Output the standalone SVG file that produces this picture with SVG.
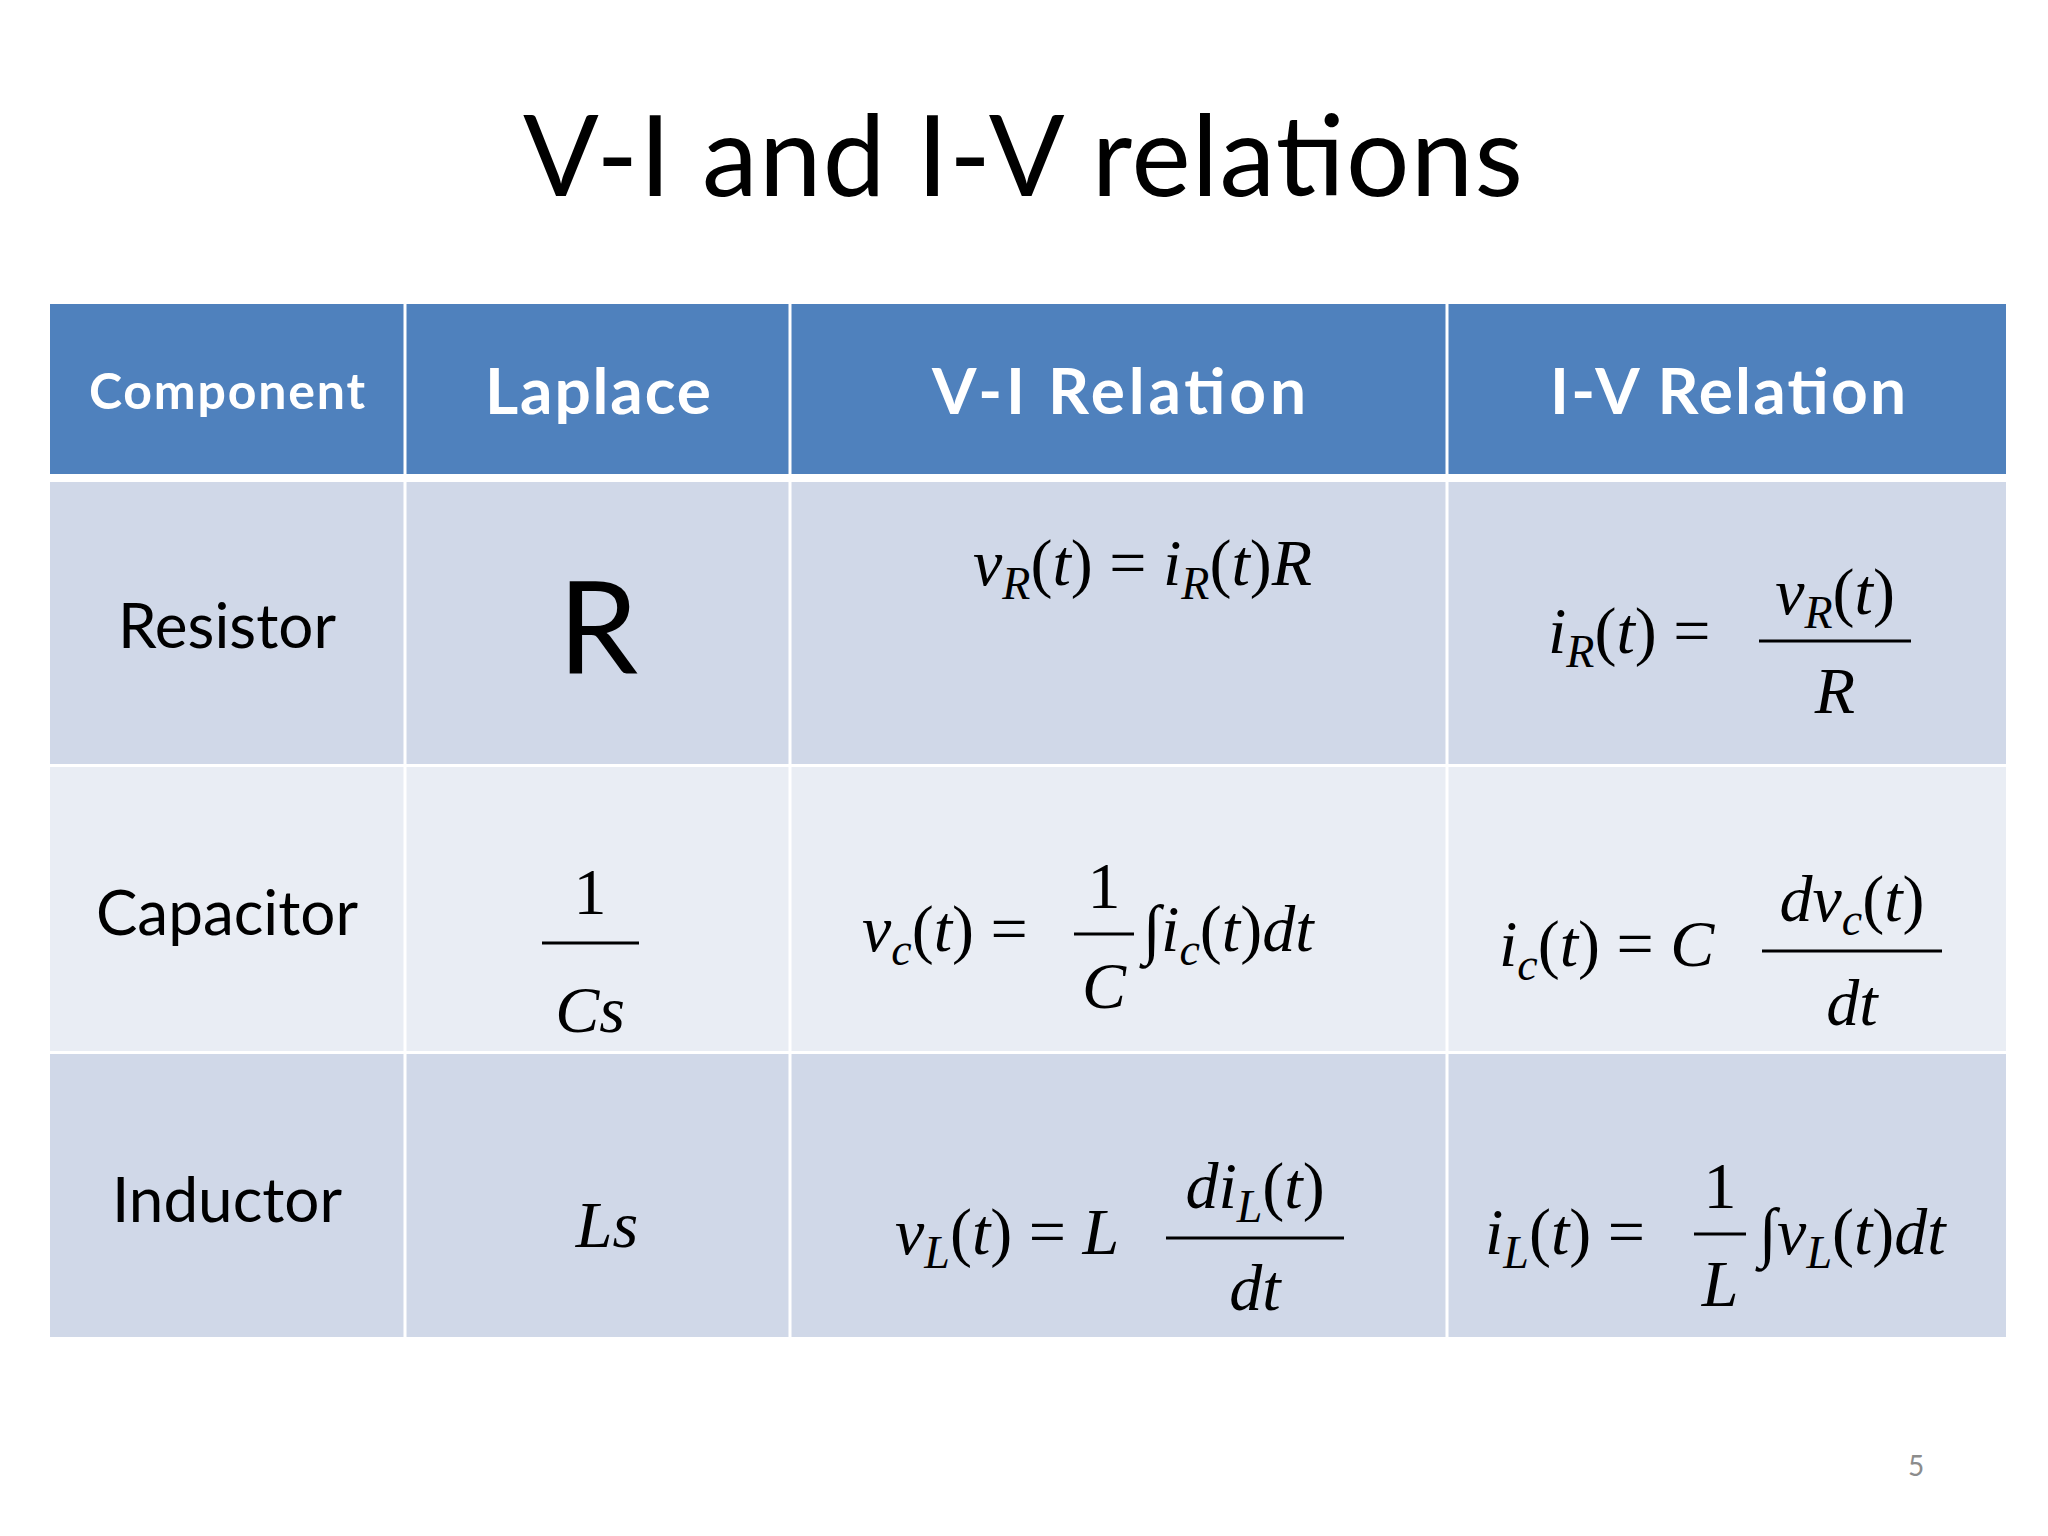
<svg xmlns="http://www.w3.org/2000/svg" width="2048" height="1536" viewBox="0 0 2048 1536">
<style>
.hd{fill:#4F81BD}.r1{fill:#D0D8E8}.r2{fill:#E9EDF4}
.ht{font-family:Lato,"Open Sans",sans-serif;font-weight:bold;fill:#fff;text-anchor:middle}
.ct{font-family:Lato,"Open Sans",sans-serif;fill:#000;font-size:62px;text-anchor:middle}
.m{font-family:"Liberation Serif",serif;font-style:italic;fill:#000;font-size:66px}
.u{font-style:normal}
.s{font-size:46px}
.fl{stroke:#000;stroke-width:3}
</style>
<rect width="2048" height="1536" fill="#fff"/>
<text x="1023" y="196" font-family="Lato,'Open Sans',sans-serif" font-size="112" text-anchor="middle" textLength="1000">V-I and I-V relations</text>
<g id="table">
<rect class="hd" x="50" y="304" width="1956" height="170"/>
<rect class="r1" x="50" y="482" width="1956" height="282"/>
<rect class="r2" x="50" y="767" width="1956" height="284"/>
<rect class="r1" x="50" y="1054" width="1956" height="283"/>
<g stroke="#fff" stroke-width="3"><line x1="405" y1="304" x2="405" y2="1337"/><line x1="790" y1="304" x2="790" y2="1337"/><line x1="1447" y1="304" x2="1447" y2="1337"/></g>
</g>
<g id="header">
<text class="ht" x="227" y="409" font-size="50" textLength="276">Component</text>
<text class="ht" x="598" y="414" font-size="64" textLength="226">Laplace</text>
<text class="ht" x="1119" y="414" font-size="64" textLength="374">V-I  Relation</text>
<text class="ht" x="1728" y="414" font-size="64" textLength="356">I-V Relation</text>
</g>
<g id="labels">
<text class="ct" x="227" y="648">Resistor</text>
<text class="ct" x="227" y="935">Capacitor</text>
<text class="ct" x="227" y="1222">Inductor</text>
<text x="598" y="673" font-family="Lato,'Open Sans',sans-serif" font-size="128" text-anchor="middle">R</text>
</g>
<g id="laplace">
<text class="m u" x="590" y="914" text-anchor="middle">1</text>
<line class="fl" x1="542" y1="943" x2="639" y2="943"/>
<text class="m" x="590" y="1032" text-anchor="middle">Cs</text>
<text class="m" x="607" y="1247" text-anchor="middle" font-size="118">Ls</text>
</g>
<g id="vi">
<text class="m" x="973" y="585">v<tspan class="s" dy="14">R</tspan><tspan class="u" dy="-14">(</tspan>t<tspan class="u">) = </tspan>i<tspan class="s" dy="14">R</tspan><tspan class="u" dy="-14">(</tspan>t<tspan class="u">)</tspan>R</text>
<text class="m" x="862" y="951">v<tspan class="s" dy="14">c</tspan><tspan class="u" dy="-14">(</tspan>t<tspan class="u">) =</tspan></text>
<text class="m u" x="1104" y="908" text-anchor="middle">1</text>
<line class="fl" x1="1074" y1="934" x2="1134" y2="934"/>
<text class="m" x="1104" y="1008" text-anchor="middle">C</text>
<text class="m" x="1143" y="951"><tspan class="u">∫</tspan>i<tspan class="s" dy="14">c</tspan><tspan class="u" dy="-14">(</tspan>t<tspan class="u">)</tspan>dt</text>
<text class="m" x="895" y="1254">v<tspan class="s" dy="14">L</tspan><tspan class="u" dy="-14">(</tspan>t<tspan class="u">) = </tspan>L</text>
<text class="m" x="1255" y="1208" text-anchor="middle">di<tspan class="s" dy="14">L</tspan><tspan class="u" dy="-14">(</tspan>t<tspan class="u">)</tspan></text>
<line class="fl" x1="1166" y1="1238" x2="1344" y2="1238"/>
<text class="m" x="1255" y="1310" text-anchor="middle">dt</text>
</g>
<g id="iv">
<text class="m" x="1548" y="653">i<tspan class="s" dy="14">R</tspan><tspan class="u" dy="-14">(</tspan>t<tspan class="u">) =</tspan></text>
<text class="m" x="1835" y="614" text-anchor="middle">v<tspan class="s" dy="14">R</tspan><tspan class="u" dy="-14">(</tspan>t<tspan class="u">)</tspan></text>
<line class="fl" x1="1759" y1="641" x2="1911" y2="641"/>
<text class="m" x="1835" y="713" text-anchor="middle">R</text>
<text class="m" x="1499" y="966">i<tspan class="s" dy="14">c</tspan><tspan class="u" dy="-14">(</tspan>t<tspan class="u">) = </tspan>C</text>
<text class="m" x="1852" y="921" text-anchor="middle">dv<tspan class="s" dy="14">c</tspan><tspan class="u" dy="-14">(</tspan>t<tspan class="u">)</tspan></text>
<line class="fl" x1="1762" y1="951" x2="1942" y2="951"/>
<text class="m" x="1852" y="1025" text-anchor="middle">dt</text>
<text class="m" x="1485" y="1254">i<tspan class="s" dy="14">L</tspan><tspan class="u" dy="-14">(</tspan>t<tspan class="u">) =</tspan></text>
<text class="m u" x="1720" y="1208" text-anchor="middle">1</text>
<line class="fl" x1="1694" y1="1234" x2="1746" y2="1234"/>
<text class="m" x="1720" y="1306" text-anchor="middle">L</text>
<text class="m" x="1759" y="1254"><tspan class="u">∫</tspan>v<tspan class="s" dy="14">L</tspan><tspan class="u" dy="-14">(</tspan>t<tspan class="u">)</tspan>dt</text>
</g>
<text x="1916" y="1476" font-family="Lato,sans-serif" font-size="28" fill="#8C8C8C" text-anchor="middle">5</text>
</svg>
